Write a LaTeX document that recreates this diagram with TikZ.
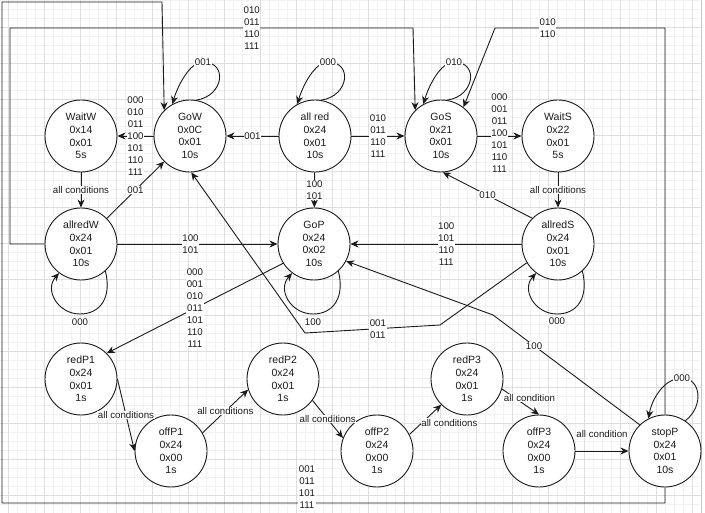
\documentclass[tikz,border=0pt]{standalone}
\usepackage{fontspec}
\setmainfont{Liberation Sans}
\usepackage{tikz}
\usetikzlibrary{arrows.meta}
\definecolor{gridminor}{HTML}{F1F1F1}
\definecolor{gridmajor}{HTML}{DEDEDE}
\definecolor{edgeline}{HTML}{C8C8C8}
\definecolor{ink}{HTML}{1A1A1A}
\tikzset{
  statenode/.style={
    circle, draw=ink, fill=white, line width=0.9pt,
    minimum size=72pt, inner sep=0pt, align=center, text=ink,
    font=\fontsize{10.5}{12.7}\selectfont
  },
  transarrow/.style={
    -{Stealth[length=8pt,width=7pt,inset=2.5pt]}, line width=0.9pt, draw=ink
  },
  transline/.style={line width=0.9pt, draw=ink},
  condlabel/.style={
    fill=white, inner sep=0.6pt, align=center, text=ink,
    font=\fontsize{9.7}{12}\selectfont
  },
}

\begin{document}
\begin{tikzpicture}[x=1pt, y=-1pt]
  \useasboundingbox (0,0) rectangle (705,513);

  % Background grid
  \foreach \gx in {-1,8,...,701} \draw[gridminor, line width=0.5pt] (\gx,0) -- (\gx,513);
  \foreach \gy in {0,9,...,513} \draw[gridminor, line width=0.5pt] (-1,\gy) -- (701,\gy);
  \foreach \gx in {8,44,...,701} \draw[gridmajor, line width=0.6pt] (\gx,0) -- (\gx,513);
  \foreach \gy in {27,63,...,513} \draw[gridmajor, line width=0.6pt] (-1,\gy) -- (701,\gy);
  \draw[edgeline, line width=0.8pt] (701.5,0) -- (701.5,513);

  % States
  \foreach \name/\x/\y/\txt in {
    waitW/81/136/{WaitW\\0x14\\0x01\\5s},
    goW/190/136/{GoW\\0x0C\\0x01\\10s},
    allRed/315/136/{all red\\0x24\\0x01\\10s},
    goS/441/136/{GoS\\0x21\\0x01\\10s},
    waitS/558/136/{WaitS\\0x22\\0x01\\5s},
    allredW/81/244/{allredW\\0x24\\0x01\\10s},
    goP/314/244/{GoP\\0x24\\0x02\\10s},
    allredS/558/244/{allredS\\0x24\\0x01\\10s},
    redP1/81/379/{redP1\\0x24\\0x01\\1s},
    offP1/171/451/{offP1\\0x24\\0x00\\1s},
    redP2/283/379/{redP2\\0x24\\0x01\\1s},
    offP2/377/451/{offP2\\0x24\\0x00\\1s},
    redP3/467/379/{redP3\\0x24\\0x01\\1s},
    offP3/539/451/{offP3\\0x24\\0x00\\1s},
    stopP/665/451/{stopP\\0x24\\0x01\\10s}} {
    \node[statenode] (\name) at (\x,\y) {\txt};
  }

  % Top row
  \draw[transarrow] (goW) -- (waitW)
    node[midway, condlabel] {000\\010\\011\\100\\101\\110\\111};
  \draw[transarrow] (allRed) -- (goW) node[midway, condlabel] {001};
  \draw[transarrow] (allRed) -- (goS) node[midway, condlabel] {010\\011\\110\\111};
  \draw[transarrow] (goS) -- (waitS)
    node[midway, condlabel, yshift=3pt] {000\\001\\011\\100\\101\\110\\111};

  % Self loops on top
  \draw[transarrow] (goW.80) .. controls (224,96) and (228,62) .. (203,62)
    node[condlabel] {001} .. controls (190,62) and (178,85) .. (goW.119);
  \draw[transarrow] (allRed.80) .. controls (349,96) and (353,62) .. (328,62)
    node[condlabel] {000} .. controls (315,62) and (303,85) .. (allRed.119);
  \draw[transarrow] (goS.80) .. controls (475,96) and (479,62) .. (454,62)
    node[condlabel] {010} .. controls (441,62) and (429,85) .. (goS.119);

  % Middle row
  \draw[transarrow] (waitW) -- (allredW) node[midway, condlabel] {all conditions};
  \draw[transarrow] (waitS) -- (allredS) node[midway, condlabel] {all conditions};
  \draw[transarrow] (allredW) -- (goW) node[midway, condlabel] {001};
  \draw[transarrow] (allredW) -- (goP) node[midway, condlabel, xshift=-7pt] {100\\101};
  \draw[transarrow] (allRed) -- (goP) node[midway, condlabel] {100\\101};
  \draw[transarrow] (allredS.135) -- (goS.-87) node[midway, condlabel] {010};
  \draw[transarrow] (allredS) -- (goP) node[pos=0.44, condlabel] {100\\101\\110\\111};

  % Self loops below
  \draw[transarrow] (allredW.-48) .. controls (112,298) and (100,314) .. (80,314)
    node[condlabel, yshift=-8.5pt] {000} .. controls (58,314) and (44,290) .. (allredW.-127);
  \draw[transarrow] (goP.-48) .. controls (345,298) and (333,314) .. (313,314)
    node[condlabel, yshift=-8.5pt] {100} .. controls (291,314) and (277,290) .. (goP.-127);
  \draw[transarrow] (allredS.-48) .. controls (589,298) and (577,314) .. (557,314)
    node[condlabel, yshift=-7pt] {000} .. controls (535,314) and (521,290) .. (allredS.-127);

  % Long connectors
  \draw[transarrow] (allredS.211) -- (440,325) -- (305,333)
    node[pos=0.46, condlabel] {001\\011} -- (goW.-88);
  \draw[transarrow] (stopP.134) -- (493,315) node[pos=0.72, condlabel] {100} -- (goP.-28);
  \draw[transarrow] (goP.212) -- (redP1.45)
    node[midway, condlabel] {000\\001\\010\\011\\101\\110\\111};
  \draw[transarrow] (allredW.west) -- (10,244) -- (10,28)
    -- node[pos=0.6, condlabel] {010\\011\\110\\111} (413,28) -- (goS.135);
  \draw[transarrow] (stopP.north) -- (665,28)
    -- node[pos=0.69, condlabel] {010\\110} (495,28) -- (goS.52);
  \draw[transarrow] (stopP.south) -- (665,503)
    -- node[pos=0.54, condlabel, yshift=16pt] {001\\011\\101\\111} (2,503)
    -- (2,2) -- (162,2) -- (goW.135);

  % Bottom chain
  \draw[transarrow] (redP1.east) -- (offP1.west) node[midway, condlabel] {all conditions};
  \draw[transarrow] (offP1.30) -- (redP2.197) node[midway, condlabel] {all conditions};
  \draw[transarrow] (redP2.-36) -- (offP2.159) node[midway, condlabel] {all conditions};
  \draw[transarrow] (offP2.27) -- (redP3.225)
    node[midway, condlabel, anchor=west, xshift=-5pt, yshift=-3pt] {all conditions};
  \draw[transarrow] (redP3.-16) -- (offP3.north)
    node[midway, condlabel, xshift=9pt, yshift=4pt] {all condition};
  \draw[transarrow] (offP3) -- (stopP) node[midway, condlabel, yshift=17pt] {all condition};
  \draw[transarrow] (stopP.56) .. controls (705,405) and (700,378) .. (682,378)
    node[condlabel] {000} .. controls (665,378) and (652,398) .. (stopP.117);
\end{tikzpicture}
\end{document}
